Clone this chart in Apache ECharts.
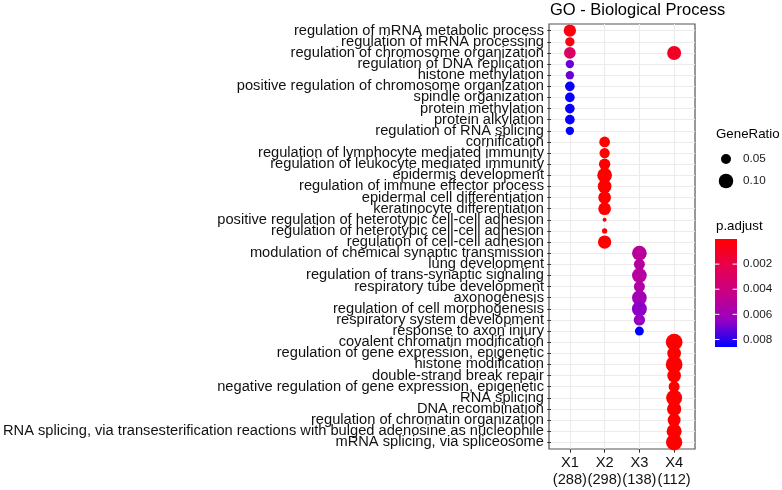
<!DOCTYPE html>
<html>
<head>
<meta charset="utf-8">
<script src="https://cdn.jsdelivr.net/npm/echarts@6/dist/echarts.min.js"></script>
<style>
html,body{margin:0;padding:0;background:#fff;}
#chart{width:782px;height:490px;}
</style>
</head>
<body>
<div id="chart"></div>
<script>
// ---- data ----
const clusters = ['X1', 'X2', 'X3', 'X4'];
const clusterSizes = [288, 298, 138, 112];
const terms = [
  'regulation of mRNA metabolic process',
  'regulation of mRNA processing',
  'regulation of chromosome organization',
  'regulation of DNA replication',
  'histone methylation',
  'positive regulation of chromosome organization',
  'spindle organization',
  'protein methylation',
  'protein alkylation',
  'regulation of RNA splicing',
  'cornification',
  'regulation of lymphocyte mediated immunity',
  'regulation of leukocyte mediated immunity',
  'epidermis development',
  'regulation of immune effector process',
  'epidermal cell differentiation',
  'keratinocyte differentiation',
  'positive regulation of heterotypic cell-cell adhesion',
  'regulation of heterotypic cell-cell adhesion',
  'regulation of cell-cell adhesion',
  'modulation of chemical synaptic transmission',
  'lung development',
  'regulation of trans-synaptic signaling',
  'respiratory tube development',
  'axonogenesis',
  'regulation of cell morphogenesis',
  'respiratory system development',
  'response to axon injury',
  'covalent chromatin modification',
  'regulation of gene expression, epigenetic',
  'histone modification',
  'double-strand break repair',
  'negative regulation of gene expression, epigenetic',
  'RNA splicing',
  'DNA recombination',
  'regulation of chromatin organization',
  'RNA splicing, via transesterification reactions with bulged adenosine as nucleophile',
  'mRNA splicing, via spliceosome'
];
// one entry per dot
const pointTerm    = [0,1,2,3,4,5,6,7,8,9, 2, 10,11,12,13,14,15,16,17,18,19, 20,21,22,23,24,25,26,27, 28,29,30,31,32,33,34,35,36,37];
const pointCluster = [0,0,0,0,0,0,0,0,0,0, 3, 1,1,1,1,1,1,1,1,1,1, 2,2,2,2,2,2,2,2, 3,3,3,3,3,3,3,3,3,3];
const geneRatio = [
  0.073, 0.044, 0.067, 0.036, 0.036, 0.047, 0.047, 0.047, 0.047, 0.036,
  0.094,
  0.057, 0.053, 0.063, 0.103, 0.090, 0.078, 0.078, 0.010, 0.016, 0.085,
  0.103, 0.060, 0.103, 0.060, 0.103, 0.107, 0.063, 0.041,
  0.131, 0.090, 0.131, 0.090, 0.060, 0.121, 0.097, 0.081, 0.107, 0.125
];
const pAdjust = [
  0.0003, 0.0005, 0.0029, 0.0071, 0.0071, 0.0085, 0.0085, 0.0085, 0.0085, 0.0086,
  0.0010,
  0.00002, 0.00002, 0.00002, 0.00001, 0.00001, 0.00001, 0.00001, 0.00003, 0.00003, 0.00002,
  0.0050, 0.0052, 0.0051, 0.0054, 0.0060, 0.0066, 0.0064, 0.0086,
  0.00001, 0.00001, 0.00001, 0.00001, 0.00001, 0.00001, 0.00001, 0.00001, 0.00001, 0.00001
];
const sizeLegendValues = [0.05, 0.10];
const colorTickValues = [0.002, 0.004, 0.006, 0.008];
const P_MIN = 0.0000, P_MAX = 0.0086;
const colorStops = ['#FF0000', '#E7004F', '#C80088', '#9900C2', '#0000FF'];

// ---- helpers ----
function dotSize(r) { return Math.max(2, 10 + 48.6 * (Math.sqrt(r) - Math.sqrt(0.05))); }

const seriesData = pointTerm.map((t, i) => [pointCluster[i], t, geneRatio[i], pAdjust[i]]);
const rowIdx = terms.map((_, i) => i);
const colIdx = clusters.map((_, i) => i);

const chart = echarts.init(document.getElementById('chart'), null, {renderer: 'canvas'});

const FONT = 'Liberation Sans, Arial, sans-serif';

// panel geometry (expansion of 0.6 units at both ends, as in ggplot discrete scales)
const PANEL = {left: 549, right: 695, top: 24, bottom: 449};
const EXP = 0.6;
const rowStep = (PANEL.bottom - PANEL.top) / (terms.length - 1 + 2 * EXP);
const labelGridTop = PANEL.top + (EXP - 0.5) * rowStep;
const labelGridBottom = PANEL.bottom - (EXP - 0.5) * rowStep;

const graphics = [];
// GeneRatio legend
graphics.push({type: 'text', left: 716, top: 128, style: {text: 'GeneRatio', font: '13.3px ' + FONT, fill: '#000'}});
const legY = [159, 181];
sizeLegendValues.forEach((v, i) => {
  graphics.push({type: 'circle', shape: {cx: 726, cy: legY[i], r: dotSize(v) / 2}, style: {fill: '#000'}});
  graphics.push({type: 'text', x: 743, y: legY[i], style: {text: v.toFixed(2), font: '11.7px ' + FONT, fill: '#1a1a1a', verticalAlign: 'middle'}});
});
// p.adjust colorbar
graphics.push({type: 'text', left: 716, top: 220, style: {text: 'p.adjust', font: '13.3px ' + FONT, fill: '#000'}});
const barX = 715, barW = 22, barTop = 239, barH = 108;
graphics.push({
  type: 'rect', shape: {x: barX, y: barTop, width: barW, height: barH},
  style: {fill: new echarts.graphic.LinearGradient(0, 0, 0, 1,
    colorStops.map((c, i) => ({offset: i / (colorStops.length - 1), color: c})))}
});
colorTickValues.forEach(v => {
  const y = barTop + (v - P_MIN) / (P_MAX - P_MIN) * barH;
  graphics.push({type: 'line', shape: {x1: barX, y1: y, x2: barX + 4.4, y2: y}, style: {stroke: '#fff', lineWidth: 1}});
  graphics.push({type: 'line', shape: {x1: barX + barW - 4.4, y1: y, x2: barX + barW, y2: y}, style: {stroke: '#fff', lineWidth: 1}});
  graphics.push({type: 'text', x: 743, y: y, style: {text: v.toFixed(3), font: '11.7px ' + FONT, fill: '#1a1a1a', verticalAlign: 'middle'}});
});

const option = {
  backgroundColor: '#fff',
  animation: false,
  title: {
    text: 'GO - Biological Process', left: 550, top: 2, padding: 0,
    textStyle: {fontFamily: FONT, fontSize: 16.5, fontWeight: 'normal', color: '#000'}
  },
  grid: [
    {left: PANEL.left, right: 782 - PANEL.right, top: PANEL.top, bottom: 490 - PANEL.bottom,
     show: true, borderColor: '#555', borderWidth: 1.2, backgroundColor: '#fff'},
    {left: PANEL.left, right: 782 - PANEL.right, top: labelGridTop, bottom: 490 - labelGridBottom, show: false}
  ],
  xAxis: [{
    gridIndex: 0, type: 'value', min: -EXP, max: clusters.length - 1 + EXP,
    axisLine: {show: false, onZero: false},
    axisTick: {show: true, length: 3.7, customValues: colIdx, lineStyle: {color: '#333'}},
    axisLabel: {
      customValues: colIdx, margin: 6, showMinLabel: true, showMaxLabel: true,
      formatter: v => clusters[v] + '\n(' + clusterSizes[v] + ')',
      fontFamily: FONT, fontSize: 14.67, lineHeight: 16.6, color: '#111'
    },
    splitLine: {show: true, lineStyle: {color: '#EBEBEB', width: 1}}
  }, {
    gridIndex: 1, type: 'value', show: false, min: 0, max: 1
  }],
  yAxis: [{
    gridIndex: 0, type: 'value', min: -EXP, max: terms.length - 1 + EXP, inverse: true,
    axisLine: {show: false, onZero: false},
    axisTick: {show: false, customValues: rowIdx},
    axisLabel: {show: false, customValues: rowIdx},
    splitLine: {show: true, lineStyle: {color: '#EBEBEB', width: 1}}
  }, {
    gridIndex: 1, type: 'category', data: terms, inverse: true, boundaryGap: true,
    axisLine: {show: false},
    axisTick: {show: true, length: 3.7, interval: 0, alignWithLabel: true, lineStyle: {color: '#333'}},
    axisLabel: {interval: 0, margin: 7, fontFamily: FONT, fontSize: 14.67, color: '#111'},
    splitLine: {show: false}
  }],
  visualMap: {
    show: false, type: 'continuous', dimension: 3, min: P_MIN, max: P_MAX, seriesIndex: 0,
    inRange: {color: colorStops}
  },
  series: [{
    type: 'scatter',
    xAxisIndex: 0, yAxisIndex: 0,
    data: seriesData,
    symbol: 'circle',
    symbolSize: v => dotSize(v[2]),
    itemStyle: {opacity: 1},
    emphasis: {disabled: true}
  }],
  graphic: graphics
};
chart.setOption(option);
</script>
</body>
</html>
